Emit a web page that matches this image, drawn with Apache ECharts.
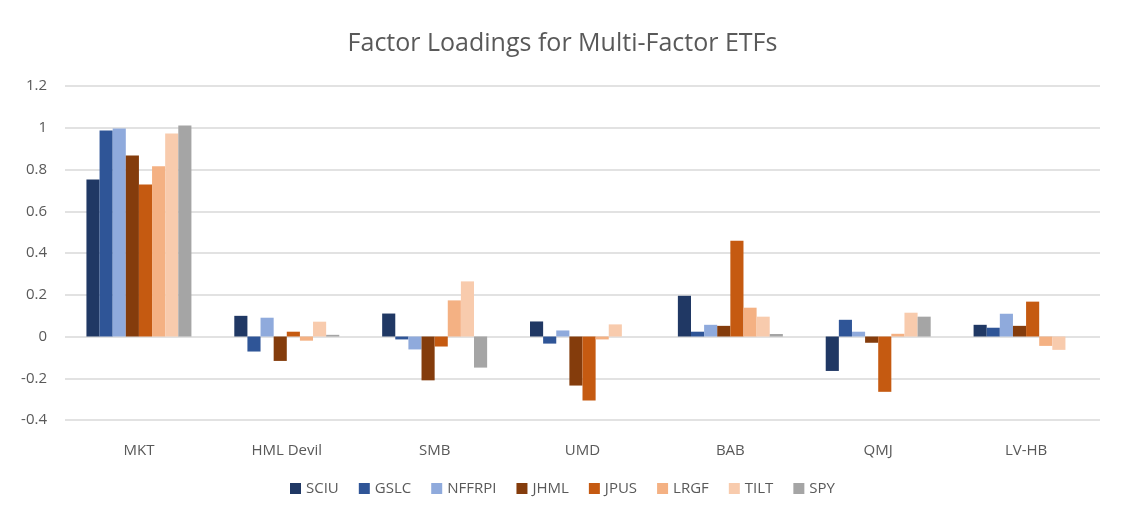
<!DOCTYPE html>
<html>
<head>
<meta charset="utf-8">
<script src="https://cdn.jsdelivr.net/npm/echarts@6/dist/echarts.min.js"></script>
<style>html,body{margin:0;padding:0;background:#fff;}#c{width:1125px;height:525px;}</style>
</head>
<body>
<div id="c"></div>
<script>
const categories = ['MKT', 'HML Devil', 'SMB', 'UMD', 'BAB', 'QMJ', 'LV-HB'];
const SCIU   = [0.752, 0.099, 0.110, 0.072, 0.195, -0.165, 0.056];
const GSLC   = [0.987, -0.072, -0.014, -0.034, 0.023, 0.080, 0.042];
const NFFRPI = [0.997, 0.090, -0.062, 0.029, 0.056, 0.023, 0.109];
const JHML   = [0.867, -0.117, -0.210, -0.235, 0.051, -0.030, 0.051];
const JPUS   = [0.728, 0.023, -0.048, -0.307, 0.459, -0.265, 0.167];
const LRGF   = [0.815, -0.020, 0.173, -0.014, 0.138, 0.013, -0.045];
const TILT   = [0.973, 0.071, 0.264, 0.058, 0.095, 0.114, -0.064];
const SPY    = [1.011, 0.008, -0.149, 0.000, 0.012, 0.095, 0.000];
const seriesNames = ['SCIU', 'GSLC', 'NFFRPI', 'JHML', 'JPUS', 'LRGF', 'TILT', 'SPY'];
const seriesData = [SCIU, GSLC, NFFRPI, JHML, JPUS, LRGF, TILT, SPY];
const colors = ['#203864', '#2F5597', '#8FAADC', '#843C0C', '#C55A11', '#F4B183', '#F8CBAD', '#A5A5A5'];

const font = '"Open Sans", "Noto Sans", sans-serif';
const chart = echarts.init(document.getElementById('c'));
chart.setOption({
  animation: false,
  color: colors,
  title: {
    text: 'Factor Loadings for Multi-Factor ETFs',
    left: 'center', top: 26,
    textStyle: { fontFamily: font, fontSize: 25, fontWeight: 'normal', color: '#595959' }
  },
  legend: {
    bottom: 24, left: 'center',
    itemWidth: 11, itemHeight: 11, itemGap: 20,
    icon: 'rect',
    textStyle: { fontFamily: font, fontSize: 15, color: '#595959' },
    data: seriesNames
  },
  grid: { left: 65, right: 25, top: 86, bottom: 105 },
  xAxis: {
    type: 'category',
    data: categories,
    position: 'bottom',
    axisLine: { show: false },
    axisTick: { show: false },
    axisLabel: { fontFamily: font, fontSize: 15, color: '#595959', margin: 23 }
  },
  yAxis: {
    type: 'value',
    min: -0.4, max: 1.2, interval: 0.2,
    axisLine: { show: false },
    axisTick: { show: false },
    axisLabel: { fontFamily: font, fontSize: 15, color: '#595959', margin: 18,
      formatter: v => String(Math.round(v * 10) / 10) },
    splitLine: { lineStyle: { color: '#D9D9D9', width: 1.5 } }
  },
  series: seriesNames.map((n, i) => ({
    name: n, type: 'bar', data: seriesData[i],
    barGap: '0%', barCategoryGap: '29%'
  }))
});
</script>
</body>
</html>
